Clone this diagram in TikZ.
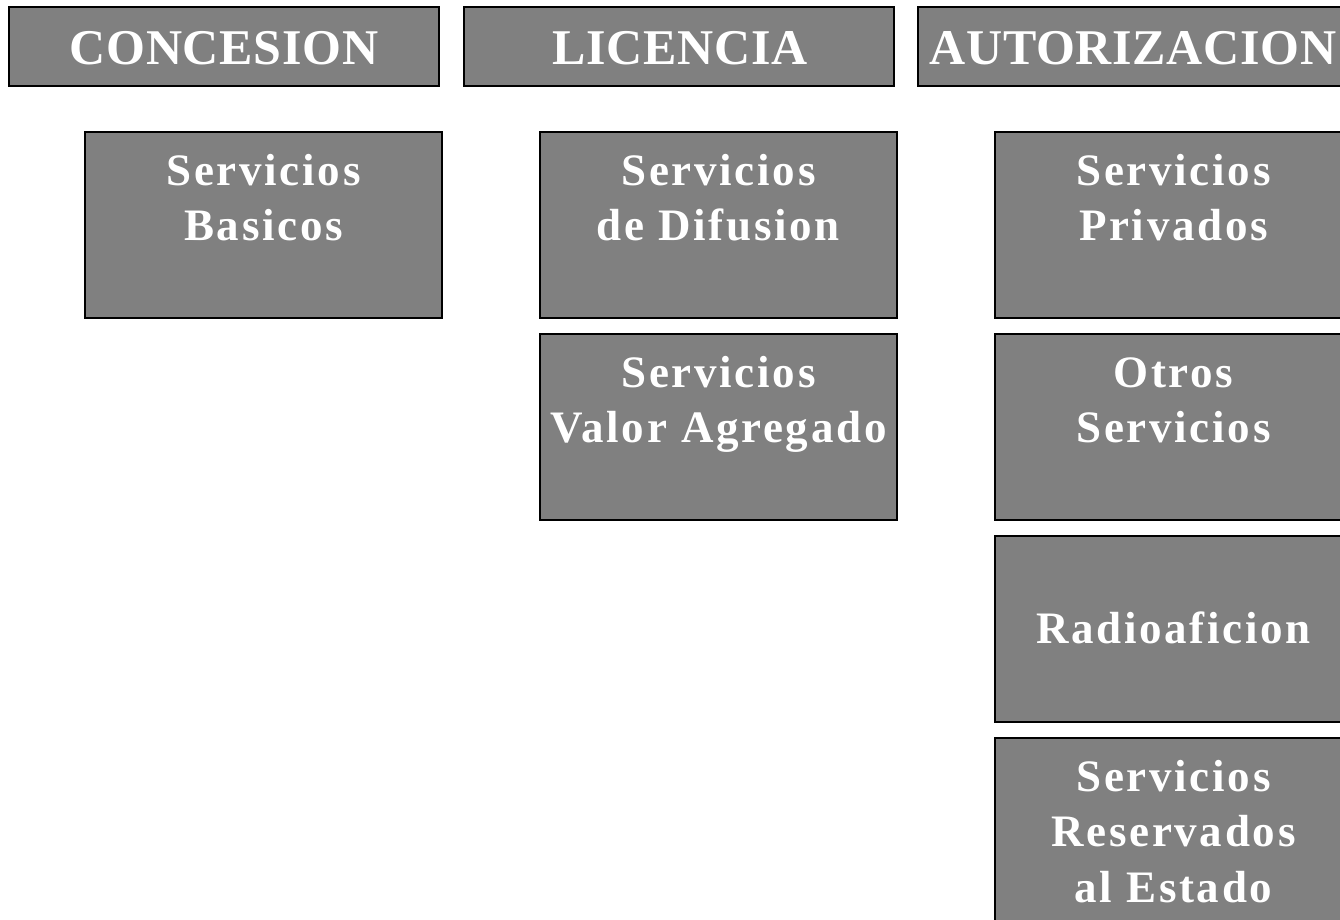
\documentclass[tikz,border=0pt]{standalone}
\usepackage{fontspec}
\setmainfont{Liberation Serif}
\newfontfamily\bodyfont[LetterSpace=6]{Liberation Serif}
\newfontfamily\hdrfont[LetterSpace=1.5]{Liberation Serif}
\begin{document}
\begin{tikzpicture}[x=1pt,y=-1pt,
  hdrbox/.style={draw=black, line width=1.5pt, fill=gray50, minimum width=430pt, minimum height=79pt, inner sep=0pt},
  bodybox/.style={draw=black, line width=1.5pt, fill=gray50, minimum width=357pt, minimum height=186pt, inner sep=0pt},
  hdrtxt/.style={text=white, font=\hdrfont\fontsize{50}{60}\selectfont\bfseries, anchor=base, inner sep=0pt},
  bodytxt/.style={text=white, font=\bodyfont\fontsize{45}{55.5}\selectfont\bfseries, align=center, anchor=north, inner sep=0pt}]
\definecolor{gray50}{RGB}{128,128,128}
\useasboundingbox (0,0) rectangle (1340,920);
\clip (0,0) rectangle (1340,920);
\fill[white] (0,0) rectangle (1340,920);
% headers
\node[hdrbox] (conc) at (224,46.5) {};
\node[hdrbox] (lic) at (679,46.5) {};
\node[hdrbox] (aut) at (1133,46.5) {};
\node[hdrtxt] (conct) at (224,65) {CONCESION};
\node[hdrtxt] (lict) at (680,65) {LICENCIA};
\node[hdrtxt] (autt) at (1133,65) {AUTORIZACION};
% body boxes
\node[bodybox] (bas) at (263.5,225) {};
\node[bodybox] (dif) at (718.5,225) {};
\node[bodybox] (val) at (718.5,427) {};
\node[bodybox] (priv) at (1173.5,225) {};
\node[bodybox] (otros) at (1173.5,427) {};
\node[bodybox] (radio) at (1173.5,629) {};
\node[bodybox] (res) at (1173.5,831) {};
% body texts
\node[bodytxt] (bast) at ([yshift=-15pt]bas.north) {\strut Servicios\\\strut Basicos};
\node[bodytxt] (dift) at ([yshift=-15pt]dif.north) {\strut Servicios\\\strut de Difusion};
\node[bodytxt] (valt) at ([yshift=-15pt]val.north) {\strut Servicios\\\strut Valor Agregado};
\node[bodytxt] (privt) at ([yshift=-15pt]priv.north) {\strut Servicios\\\strut Privados};
\node[bodytxt] (otrost) at ([yshift=-15pt]otros.north) {\strut Otros\\\strut Servicios};
\node[bodytxt] (radiot) at ([yshift=-69.5pt]radio.north) {\strut Radioaficion};
\node[bodytxt] (rest) at ([yshift=-15pt]res.north) {\strut Servicios\\\strut Reservados\\\strut al Estado};
\end{tikzpicture}
\end{document}
